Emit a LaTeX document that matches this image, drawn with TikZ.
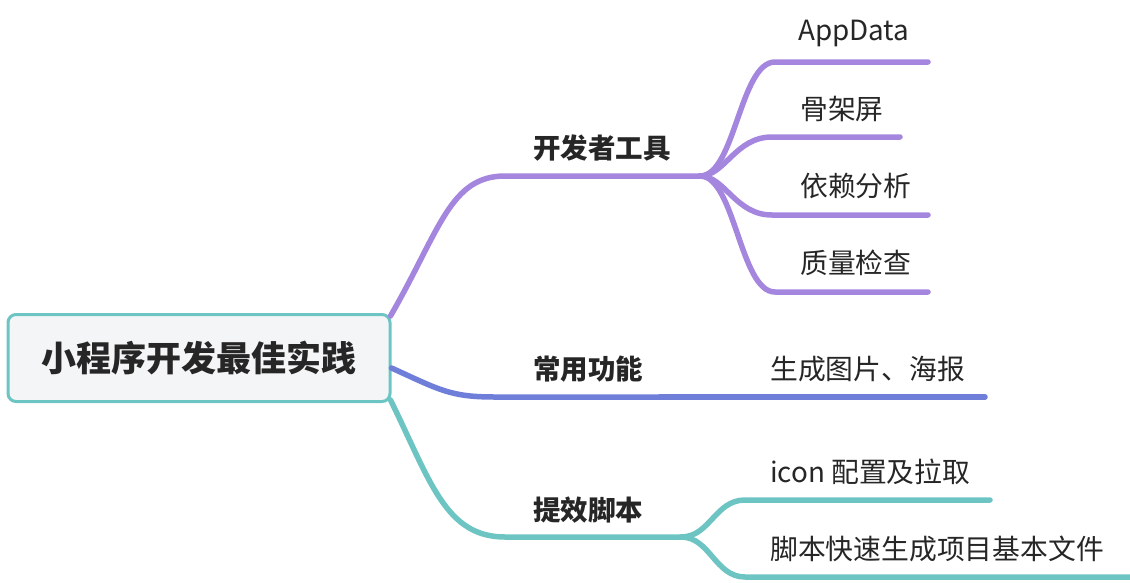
\documentclass[tikz,border=0pt]{standalone}
\usepackage{fontspec}
\setmainfont{Noto Sans CJK SC}
\usepackage{xcolor}
\usepackage{tikz}
\usetikzlibrary{positioning}
\definecolor{mmInk}{HTML}{262626}
\definecolor{mmPurple}{HTML}{A486DE}
\definecolor{mmBlue}{HTML}{6F7FD9}
\definecolor{mmTeal}{HTML}{6DC5C3}
\definecolor{mmRootBg}{HTML}{F4F5F6}
\tikzset{
  % Central topic
  rootbox/.style={rectangle,rounded corners=8pt,
    minimum width=382pt,minimum height=87pt,
    draw=mmTeal,line width=3pt,fill=mmRootBg,
    font=\fontsize{35}{40}\selectfont\bfseries,text=mmInk},
  % Main topic label
  toplbl/.style={inner sep=0pt,anchor=west,
    font=\fontsize{27.5}{32}\selectfont\bfseries,text=mmInk},
  % Sub topic label
  sublbl/.style={inner sep=0pt,anchor=west,
    font=\fontsize{27.8}{32}\selectfont,text=mmInk},
  % Branch lines
  br/.style={line width=5.5pt,line cap=round,color=#1},
}

\begin{document}
\begin{tikzpicture}[x=1pt,y=-1pt]
  \useasboundingbox (0,0) rectangle (1130,582);

  \node[rootbox] (root) at (199,358) {小程序开发最佳实践};

  % main topics
  \node[toplbl] (dev) at (533,148) {开发者工具};
  \node[toplbl] (fun) at (533,369) {常用功能};
  \node[toplbl] (script) at (533,510) {提效脚本};

  % sub topics
  \node[sublbl] (appdata) at (798,33) {AppData};
  \node[sublbl] (skeleton) at (800,109) {骨架屏};
  \node[sublbl] (deps) at (800,186) {依赖分析};
  \node[sublbl] (quality) at (800,263) {质量检查};
  \node[sublbl] (poster) at (770,369) {生成图片、海报};
  \node[sublbl] (icon) at (770,472) {icon 配置及拉取};
  \node[sublbl] (gen) at (770,549) {脚本快速生成项目基本文件};

  \coordinate (devfan) at (700,176);
  \coordinate (funend) at (660,397);
  \coordinate (scriptfan) at (681,537);

  % root to main topics
  \draw[br=mmPurple] ([xshift=-1pt,yshift=-3pt]root.north east)
    .. controls (440,230) and (450,176) .. (505,176) -- (devfan);
  \draw[br=mmBlue] ([yshift=-10pt]root.east)
    .. controls (440,390) and (450,397) .. (495,397) -- (funend);
  \draw[br=mmTeal] ([xshift=-1pt,yshift=3pt]root.south east)
    .. controls (430,480) and (445,537) .. (505,537) -- (scriptfan);

  % 开发者工具
  \draw[br=mmPurple] (devfan) .. controls (735,176) and (740,62) .. (775,62)
    -- (928,62);
  \draw[br=mmPurple] (devfan) .. controls (725,176) and (735,137) .. (772,137)
    -- (900,137);
  \draw[br=mmPurple] (devfan) .. controls (725,176) and (735,215) .. (772,215)
    -- (928,215);
  \draw[br=mmPurple] (devfan) .. controls (735,176) and (740,292) .. (775,292)
    -- (928,292);

  % 常用功能
  \draw[br=mmBlue] (funend) -- (985,397);

  % 提效脚本
  \draw[br=mmTeal] (scriptfan) .. controls (710,537) and (715,500) .. (745,500)
    -- (990,500);
  \draw[br=mmTeal] (scriptfan) .. controls (710,537) and (715,577) .. (745,577)
    -- (1130,577);
\end{tikzpicture}
\end{document}
